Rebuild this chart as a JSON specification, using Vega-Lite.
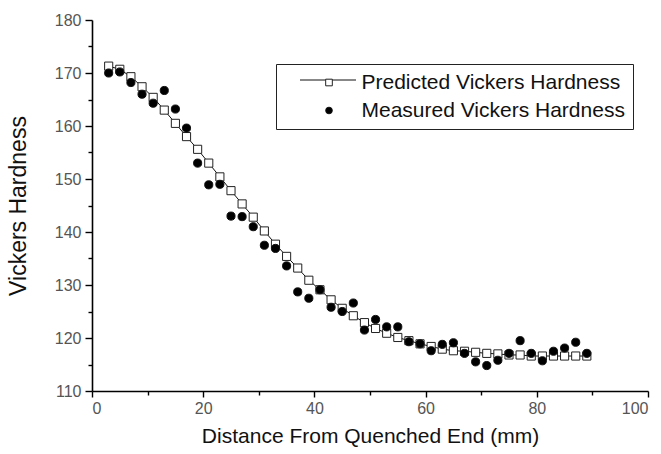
{
  "$schema": "https://vega.github.io/schema/vega-lite/v6.json",
  "width": 556,
  "height": 371,
  "autosize": {"type": "none"},
  "padding": {"left": 92, "top": 20, "right": 13, "bottom": 63},
  "background": "white",
  "config": {
    "view": {"stroke": null},
    "font": "Liberation Sans",
    "axis": {
      "grid": false,
      "domainColor": "black",
      "domainWidth": 1.6,
      "tickColor": "black",
      "tickWidth": 1.4,
      "labelFont": "Liberation Sans",
      "labelFontSize": 16,
      "labelColor": "#555555",
      "titleFont": "Liberation Sans",
      "titleFontSize": 21,
      "titleFontWeight": "normal",
      "titleColor": "#111111"
    }
  },
  "data": {
    "values": [
      {"x": 3, "y": 171.3, "series": "Predicted Vickers Hardness"},
      {"x": 5, "y": 170.7, "series": "Predicted Vickers Hardness"},
      {"x": 7, "y": 169.3, "series": "Predicted Vickers Hardness"},
      {"x": 9, "y": 167.4, "series": "Predicted Vickers Hardness"},
      {"x": 11, "y": 165.4, "series": "Predicted Vickers Hardness"},
      {"x": 13, "y": 163.0, "series": "Predicted Vickers Hardness"},
      {"x": 15, "y": 160.5, "series": "Predicted Vickers Hardness"},
      {"x": 17, "y": 158.0, "series": "Predicted Vickers Hardness"},
      {"x": 19, "y": 155.6, "series": "Predicted Vickers Hardness"},
      {"x": 21, "y": 153.0, "series": "Predicted Vickers Hardness"},
      {"x": 23, "y": 150.4, "series": "Predicted Vickers Hardness"},
      {"x": 25, "y": 147.8, "series": "Predicted Vickers Hardness"},
      {"x": 27, "y": 145.3, "series": "Predicted Vickers Hardness"},
      {"x": 29, "y": 142.8, "series": "Predicted Vickers Hardness"},
      {"x": 31, "y": 140.2, "series": "Predicted Vickers Hardness"},
      {"x": 33, "y": 137.7, "series": "Predicted Vickers Hardness"},
      {"x": 35, "y": 135.4, "series": "Predicted Vickers Hardness"},
      {"x": 37, "y": 133.2, "series": "Predicted Vickers Hardness"},
      {"x": 39, "y": 130.9, "series": "Predicted Vickers Hardness"},
      {"x": 41, "y": 129.1, "series": "Predicted Vickers Hardness"},
      {"x": 43, "y": 127.2, "series": "Predicted Vickers Hardness"},
      {"x": 45, "y": 125.6, "series": "Predicted Vickers Hardness"},
      {"x": 47, "y": 124.2, "series": "Predicted Vickers Hardness"},
      {"x": 49, "y": 122.9, "series": "Predicted Vickers Hardness"},
      {"x": 51, "y": 121.8, "series": "Predicted Vickers Hardness"},
      {"x": 53, "y": 120.9, "series": "Predicted Vickers Hardness"},
      {"x": 55, "y": 120.1, "series": "Predicted Vickers Hardness"},
      {"x": 57, "y": 119.5, "series": "Predicted Vickers Hardness"},
      {"x": 59, "y": 118.9, "series": "Predicted Vickers Hardness"},
      {"x": 61, "y": 118.4, "series": "Predicted Vickers Hardness"},
      {"x": 63, "y": 117.9, "series": "Predicted Vickers Hardness"},
      {"x": 65, "y": 117.6, "series": "Predicted Vickers Hardness"},
      {"x": 67, "y": 117.5, "series": "Predicted Vickers Hardness"},
      {"x": 69, "y": 117.3, "series": "Predicted Vickers Hardness"},
      {"x": 71, "y": 117.1, "series": "Predicted Vickers Hardness"},
      {"x": 73, "y": 117.0, "series": "Predicted Vickers Hardness"},
      {"x": 75, "y": 116.8, "series": "Predicted Vickers Hardness"},
      {"x": 77, "y": 116.8, "series": "Predicted Vickers Hardness"},
      {"x": 79, "y": 116.6, "series": "Predicted Vickers Hardness"},
      {"x": 81, "y": 116.6, "series": "Predicted Vickers Hardness"},
      {"x": 83, "y": 116.6, "series": "Predicted Vickers Hardness"},
      {"x": 85, "y": 116.6, "series": "Predicted Vickers Hardness"},
      {"x": 87, "y": 116.6, "series": "Predicted Vickers Hardness"},
      {"x": 89, "y": 116.6, "series": "Predicted Vickers Hardness"},
      {"x": 3, "y": 170.0, "series": "Measured Vickers Hardness"},
      {"x": 5, "y": 170.2, "series": "Measured Vickers Hardness"},
      {"x": 7, "y": 168.2, "series": "Measured Vickers Hardness"},
      {"x": 9, "y": 166.0, "series": "Measured Vickers Hardness"},
      {"x": 11, "y": 164.3, "series": "Measured Vickers Hardness"},
      {"x": 13, "y": 166.7, "series": "Measured Vickers Hardness"},
      {"x": 15, "y": 163.2, "series": "Measured Vickers Hardness"},
      {"x": 17, "y": 159.6, "series": "Measured Vickers Hardness"},
      {"x": 19, "y": 153.0, "series": "Measured Vickers Hardness"},
      {"x": 21, "y": 148.9, "series": "Measured Vickers Hardness"},
      {"x": 23, "y": 149.0, "series": "Measured Vickers Hardness"},
      {"x": 25, "y": 143.0, "series": "Measured Vickers Hardness"},
      {"x": 27, "y": 142.9, "series": "Measured Vickers Hardness"},
      {"x": 29, "y": 141.0, "series": "Measured Vickers Hardness"},
      {"x": 31, "y": 137.5, "series": "Measured Vickers Hardness"},
      {"x": 33, "y": 136.9, "series": "Measured Vickers Hardness"},
      {"x": 35, "y": 133.6, "series": "Measured Vickers Hardness"},
      {"x": 37, "y": 128.7, "series": "Measured Vickers Hardness"},
      {"x": 39, "y": 127.5, "series": "Measured Vickers Hardness"},
      {"x": 41, "y": 129.1, "series": "Measured Vickers Hardness"},
      {"x": 43, "y": 125.8, "series": "Measured Vickers Hardness"},
      {"x": 45, "y": 125.0, "series": "Measured Vickers Hardness"},
      {"x": 47, "y": 126.6, "series": "Measured Vickers Hardness"},
      {"x": 49, "y": 121.5, "series": "Measured Vickers Hardness"},
      {"x": 51, "y": 123.5, "series": "Measured Vickers Hardness"},
      {"x": 53, "y": 122.1, "series": "Measured Vickers Hardness"},
      {"x": 55, "y": 122.1, "series": "Measured Vickers Hardness"},
      {"x": 57, "y": 119.3, "series": "Measured Vickers Hardness"},
      {"x": 59, "y": 118.9, "series": "Measured Vickers Hardness"},
      {"x": 61, "y": 117.6, "series": "Measured Vickers Hardness"},
      {"x": 63, "y": 118.8, "series": "Measured Vickers Hardness"},
      {"x": 65, "y": 119.1, "series": "Measured Vickers Hardness"},
      {"x": 67, "y": 117.1, "series": "Measured Vickers Hardness"},
      {"x": 69, "y": 115.5, "series": "Measured Vickers Hardness"},
      {"x": 71, "y": 114.8, "series": "Measured Vickers Hardness"},
      {"x": 73, "y": 115.8, "series": "Measured Vickers Hardness"},
      {"x": 75, "y": 117.1, "series": "Measured Vickers Hardness"},
      {"x": 77, "y": 119.5, "series": "Measured Vickers Hardness"},
      {"x": 79, "y": 117.1, "series": "Measured Vickers Hardness"},
      {"x": 81, "y": 115.7, "series": "Measured Vickers Hardness"},
      {"x": 83, "y": 117.5, "series": "Measured Vickers Hardness"},
      {"x": 85, "y": 118.1, "series": "Measured Vickers Hardness"},
      {"x": 87, "y": 119.2, "series": "Measured Vickers Hardness"},
      {"x": 89, "y": 117.1, "series": "Measured Vickers Hardness"}
    ]
  },
  "resolve": {"axis": {"x": "independent", "y": "independent"}},
  "layer": [
    {
      "transform": [{"filter": "datum.series === 'Predicted Vickers Hardness'"}],
      "mark": {"type": "line", "strokeWidth": 1},
      "encoding": {
        "x": {
          "field": "x", "type": "quantitative",
          "scale": {"domain": [0, 100], "nice": false, "zero": false},
          "axis": {"orient": "bottom", "values": [0, 20, 40, 60, 80, 100], "tickSize": 6, "labelPadding": 3, "title": "Distance From Quenched End (mm)", "titlePadding": 9}
        },
        "y": {
          "field": "y", "type": "quantitative",
          "scale": {"domain": [110, 180], "nice": false, "zero": false},
          "axis": {"orient": "left", "values": [110, 120, 130, 140, 150, 160, 170, 180], "tickSize": 7, "labelPadding": 4, "title": "Vickers Hardness", "titleFontSize": 23, "titlePadding": 24}
        },
        "color": {
          "field": "series", "type": "nominal",
          "scale": {"domain": ["Predicted Vickers Hardness"], "range": ["#111111"]},
          "legend": {
            "title": null,
            "orient": "none",
            "legendX": 207.5,
            "legendY": 31.5,
            "padding": 0,
            "symbolType": "stroke",
            "symbolSize": 3136,
            "symbolStrokeWidth": 1,
            "symbolOffset": 0,
            "labelOpacity": 0,
            "labelExpr": "''",
            "labelFontSize": 8,
            "labelLimit": 20
          }
        }
      }
    },
    {
      "mark": {"type": "point", "filled": false, "opacity": 1, "strokeWidth": 1, "size": 66},
      "encoding": {
        "x": {"field": "x", "type": "quantitative", "axis": null},
        "y": {"field": "y", "type": "quantitative", "axis": null},
        "shape": {
          "field": "series", "type": "nominal",
          "scale": {"domain": ["Predicted Vickers Hardness", "Measured Vickers Hardness"], "range": ["square", "circle"]},
          "legend": {
            "title": null,
            "orient": "none",
            "legendX": 184,
            "legendY": 44,
            "direction": "vertical",
            "strokeColor": "#222222",
            "padding": 8,
            "labelFont": "Liberation Sans",
            "labelFontSize": 21,
            "labelColor": "#111111",
            "labelLimit": 500,
            "labelOffset": 22,
            "symbolOffset": 34.5,
            "rowPadding": 6,
            "symbolSize": 44,
            "symbolStrokeWidth": 1
          }
        },
        "fill": {
          "field": "series", "type": "nominal",
          "scale": {"domain": ["Predicted Vickers Hardness", "Measured Vickers Hardness"], "range": ["white", "black"]}
        },
        "stroke": {
          "field": "series", "type": "nominal",
          "scale": {"domain": ["Predicted Vickers Hardness", "Measured Vickers Hardness"], "range": ["#222222", "#111111"]}
        },
        "order": {"field": "series", "sort": "descending"}
      }
    },
    {
      "mark": {"type": "point", "opacity": 0},
      "encoding": {
        "x": {"field": "x", "type": "quantitative", "axis": {"orient": "bottom", "values": [10, 30, 50, 70, 90], "tickSize": 4, "labels": false, "domain": false, "title": null}},
        "y": {"field": "y", "type": "quantitative", "axis": {"orient": "left", "values": [115, 125, 135, 145, 155, 165, 175], "tickSize": 4, "labels": false, "domain": false, "title": null}}
      }
    }
  ]
}
